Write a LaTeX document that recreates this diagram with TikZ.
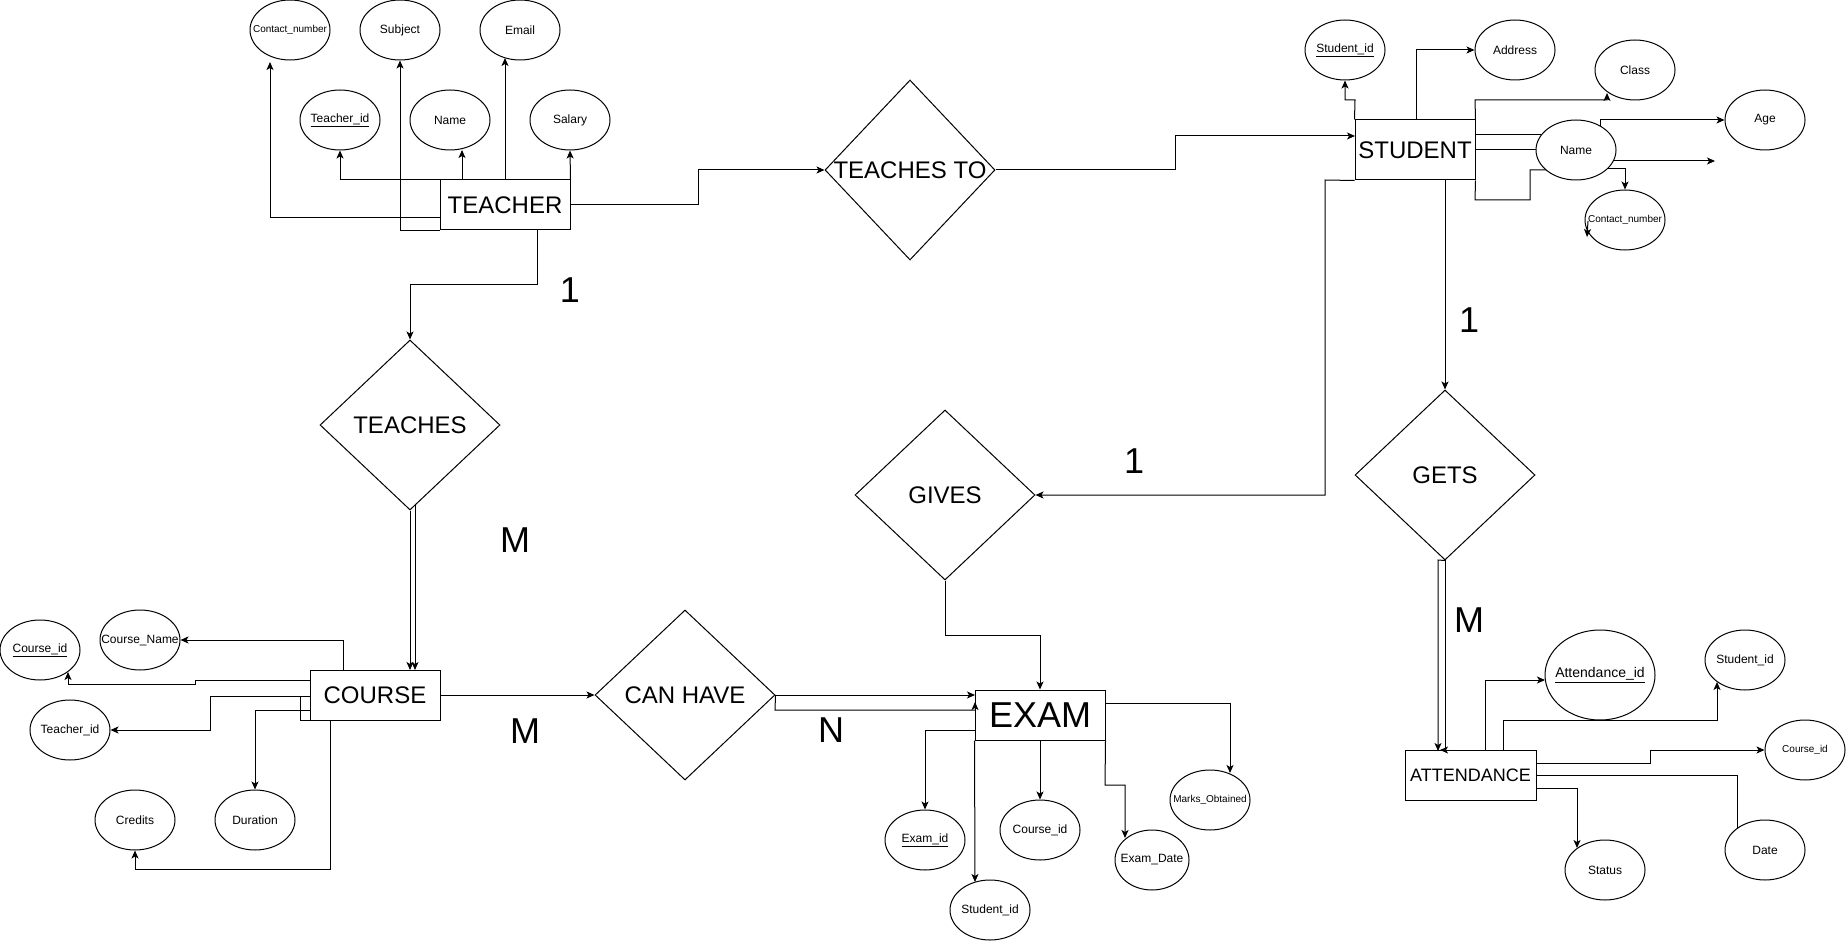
\documentclass[tikz,border=0pt]{standalone}
\usepackage{fontspec}
\setmainfont{Liberation Sans}
\usetikzlibrary{shapes.geometric,arrows.meta,calc}
\newcommand\ztext[1]{\makebox[0pt]{#1}}
\begin{document}
\begin{tikzpicture}[x=1pt,y=-1pt, line width=1pt,
  attr/.style={ellipse, draw, minimum width=80pt, minimum height=60pt, inner sep=0pt, font=\fontsize{12}{14}\selectfont},
  small/.style={font=\fontsize{10}{12}\selectfont},
  ent/.style={rectangle, draw, minimum width=130pt, minimum height=50pt, inner sep=0pt, font=\fontsize{24}{28}\selectfont},
  rel/.style={diamond, draw, aspect=1, minimum width=180pt, minimum height=170pt, inner sep=0pt, font=\fontsize{24}{28}\selectfont},
  card/.style={font=\fontsize{36}{40}\selectfont, inner sep=0pt},
  arr/.style={-{Stealth[length=8pt,width=7pt,inset=2pt]}},
]
\fill[white] (0,0) rectangle (1846,941);
\useasboundingbox (0,0) rectangle (1846,941);

% entities
\node[ent] (teacher) at (505,205) {TEACHER};
\node[ent, minimum width=120pt, minimum height=60pt] (student) at (1415,150) {STUDENT};
\node[ent] (course) at (375,695) {COURSE};
\node[ent, font=\fontsize{36}{40}\selectfont] (exam) at (1040,715) {EXAM};
\node[ent, minimum width=131pt, font=\fontsize{18}{22}\selectfont] (att) at (1470.5,775) {ATTENDANCE};

% relationships
\node[rel, minimum width=170pt, minimum height=180pt] (teachesto) at (910,170) {\ztext{TEACHES TO}};
\node[rel] (teaches) at (410,425) {\ztext{TEACHES}};
\node[rel] (gives) at (945,495) {\ztext{GIVES}};
\node[rel] (canhave) at (685,695) {\ztext{CAN HAVE}};
\node[rel] (gets) at (1445,475) {\ztext{GETS}};

% teacher attributes
\node[attr, small] (tcontact) at (290,30) {\ztext{Contact\_number}};
\node[attr] (tsub) at (400,30) {\ztext{Subject}};
\node[attr] (temail) at (520,30) {\ztext{Email}};
\node[attr] (tid) at (340,120) {\ztext{\underline{Teacher\_id}}};
\node[attr] (tname) at (450,120) {\ztext{Name}};
\node[attr] (tsal) at (570,120) {\ztext{Salary}};

% student attributes
\node[attr] (sid) at (1345,50) {\ztext{\underline{Student\_id}}};
\node[attr] (addr) at (1515,50) {\ztext{Address}};
\node[attr] (sclass) at (1635,70) {\ztext{Class}};
\node[attr] (age) at (1765,120) {\ztext{Age}};
\node[attr] (sname) at (1576,150) {\ztext{Name}};
\node[attr, small] (scontact) at (1625,220) {\ztext{Contact\_number}};

% course attributes
\node[attr] (cid) at (40,650) {\ztext{\underline{Course\_id}}};
\node[attr] (cname) at (140,640) {\ztext{Course\_Name}};
\node[attr] (ctid) at (70,730) {\ztext{Teacher\_id}};
\node[attr] (ccred) at (135,820) {\ztext{Credits}};
\node[attr] (cdur) at (255,820) {\ztext{Duration}};

% exam attributes
\node[attr] (eid) at (925,840) {\ztext{\underline{Exam\_id}}};
\node[attr] (ecid) at (1040,830) {\ztext{Course\_id}};
\node[attr] (esid) at (990,910) {\ztext{Student\_id}};
\node[attr, minimum width=74pt] (edate) at (1152,860) {\ztext{Exam\_Date}};
\node[attr, small] (emarks) at (1210,800) {\ztext{Marks\_Obtained}};

% attendance attributes
\node[attr, minimum width=110pt, minimum height=90pt, font=\fontsize{14}{16}\selectfont] (aid) at (1600,675) {\ztext{\underline{Attendance\_id}}};
\node[attr] (asid) at (1745,660) {\ztext{Student\_id}};
\node[attr, small] (acid) at (1805,750) {\ztext{Course\_id}};
\node[attr] (adate) at (1765,850) {\ztext{Date}};
\node[attr] (astatus) at (1605,870) {\ztext{Status}};

% cardinalities
\node[card] (c1) at (570,290) {1};
\node[card] (c2) at (515,540) {M};
\node[card] (c3) at (1134,461) {1};
\node[card] (c4) at (1469,320) {1};
\node[card] (c5) at (1469,620) {M};
\node[card] (c6) at (525,731) {M};
\node[card] (c7) at (831,730) {N};

% teacher connectors
\draw[arr] (teacher.north west) -| (tid.south);
\draw[arr] (462,180) -- (462,150);
\draw[arr] (teacher.north) -- (505,58);
\draw[arr] (teacher.north east) -- (tsal.south);
\draw[arr] (440,218) -- (270,218) -- (270,62);
\draw[arr] (teacher.south west) -| (tsub.south);
\draw[arr] (teacher.east) -- (698,205) |- (teachesto.west);
\draw[arr] (537,230) -- (537,284) -| (teaches.north);
\draw[arr] (teachesto.east) -- (1175,170) |- (1355,136);

% student connectors
\draw[arr] (student.north west) -- (1355,100) -- (1345,100) -- (sid.south);
\draw[arr] (1416,120) |- (addr.west);
\draw[arr] (student.north east) -- (1475,100) -- (1607,100) -- (1607,93);
\draw (1475,135) -- (1541,135);
\draw (student.east) -- (sname.west);
\draw (student.south east) -- (1475,200) -- (1530,200) -- (1530,170) -- (1546,170);
\draw[arr] (1600,126) -- (1600,120) -- (age.west);
\draw[arr] (1613,161) -- (1715,161);
\draw[arr] (1607,169) -- (1625,169) -- (scontact.north);
\draw[arr] (1588,221) -- (1587,237);
\draw[arr] (student.south west) -- (1325,180) |- (gives.east);
\draw[arr] (1445,180) -- (gets.north);

% gets to attendance
\draw[arr] (gets.south) -- (1438,560) -- (1438,751);
\draw (1445,560) -- (1445,750);
\draw[arr] (1453,750) -- (1440,750);

% teaches to course
\draw[arr] (teaches.south) -- (410,670);
\draw[arr] (415,505) -- (415,670);

% course connectors
\draw[arr] (343,670) |- (cname.east);
\draw[arr] (310,680) -- (195,680) -- (195,684) -- (68,684) -- (68,672);
\draw[arr] (310,696) -- (210,696) |- (ctid.east);
\draw (300,696) -- (300,720) -- (310,720);
\draw[arr] (310,710) -| (cdur.north);
\draw[arr] (330,720) -- (330,869) -| (ccred.south);
\draw[arr] (course.east) -- (canhave.west);

% can have to exam
\draw[arr] (canhave.east) -- (975,695);
\draw (canhave.east) -- (775,710) -- (975,710);
\draw[arr] (975,713) -- (975,702);

% exam connectors
\draw[arr] (975,730) -| (eid.north);
\draw[arr] (exam.south west) -- (975,882);
\draw[arr] (exam.south) -- (ecid.north);
\draw[arr] (exam.south east) -- (1105,785) -- (1125,785) -- (1125,838);
\draw[arr] (1105,703) -- (1230,703) -- (1230,773);
\draw[arr] (gives.south) -- (945,635) -| (exam.north);

% attendance connectors
\draw[arr] (1485,750) -- (1485,680) -- (1545,680);
\draw[arr] (1503,750) -- (1503,720) -- (1717,720) -- (1717,682);
\draw[arr] (1536,763) -- (1650,763) |- (acid.west);
\draw (1536,775) -- (1737,775) -- (1737,829);
\draw[arr] (1536,788) -- (1577,788) -- (1577,848);
\end{tikzpicture}
\end{document}
